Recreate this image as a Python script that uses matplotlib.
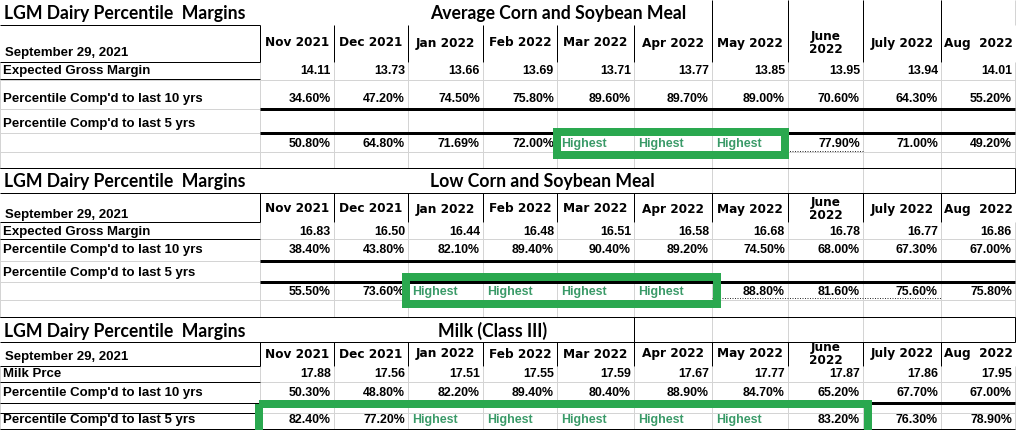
import matplotlib
matplotlib.use("Agg")
import matplotlib.pyplot as plt
from matplotlib.patches import Rectangle

# ---- data -------------------------------------------------------------
months = ["Nov 2021", "Dec 2021", "Jan 2022", "Feb 2022", "Mar 2022",
          "Apr 2022", "May 2022", "June\n2022", "July 2022", "Aug  2022"]

main_title = "LGM Dairy Percentile  Margins"
report_date = "September 29, 2021"
section_titles = ["Average Corn and Soybean Meal", "Low Corn and Soybean Meal",
                  "Milk (Class III)"]
first_labels = ["Expected Gross Margin", "Expected Gross Margin", "Milk Prce"]
label_10 = "Percentile Comp'd to last 10 yrs"
label_5 = "Percentile Comp'd to last 5 yrs"
highest_text = "Highest"

# None means the cell says "Highest"
avg_margin = [14.11, 13.73, 13.66, 13.69, 13.71, 13.77, 13.85, 13.95, 13.94, 14.01]
avg_pct10 = [34.60, 47.20, 74.50, 75.80, 89.60, 89.70, 89.00, 70.60, 64.30, 55.20]
avg_pct5 = [50.80, 64.80, 71.69, 72.00, None, None, None, 77.90, 71.00, 49.20]

low_margin = [16.83, 16.50, 16.44, 16.48, 16.51, 16.58, 16.68, 16.78, 16.77, 16.86]
low_pct10 = [38.40, 43.80, 82.10, 89.40, 90.40, 89.20, 74.50, 68.00, 67.30, 67.00]
low_pct5 = [55.50, 73.60, None, None, None, None, 88.80, 81.60, 75.60, 75.80]

milk_price = [17.88, 17.56, 17.51, 17.55, 17.59, 17.67, 17.77, 17.87, 17.86, 17.95]
milk_pct10 = [50.30, 48.80, 82.20, 89.40, 80.40, 88.90, 84.70, 65.20, 67.70, 67.00]
milk_pct5 = [82.40, 77.20, None, None, None, None, None, 83.20, 76.30, 78.90]

firsts = [avg_margin, low_margin, milk_price]
pct10s = [avg_pct10, low_pct10, milk_pct10]
pct5s = [avg_pct5, low_pct5, milk_pct5]

# ---- layout (pixel grid of the sheet) ---------------------------------
W, H = 1018, 430
col_edges = [0, 260, 334, 408, 483, 557, 634, 712, 788, 863, 941, 1015]

layout = [
    dict(title_row=(0, 25), title_y=14, title_x=430, title_end=712,
         head=(25, 62), head_clip=62, head_y=43, date_y=53,
         first_y=71, pct10_y=99, lab5_y=124, val5_y=144, bottom=168,
         label_lines=[25, 62, 79], gray_rows=[80, 109, 133, 152],
         black_rows=[168], thick=[109, 133], dotted=(151, 557, 863),
         title_vlines=[], box=(557, 785, 132, 155)),
    dict(title_row=(168, 193), title_y=182, title_x=430, title_end=634,
         head=(193, 222), head_clip=222, head_y=209, date_y=215,
         first_y=232, pct10_y=250, lab5_y=273, val5_y=292, bottom=317,
         label_lines=[222, 239], gray_rows=[239, 261, 282, 300],
         black_rows=[168, 193, 317], thick=[261, 282], dotted=(298, 712, 941),
         title_vlines=[1015], box=(406, 717, 277, 304)),
    dict(title_row=(317, 342), title_y=331, title_x=438, title_end=634,
         head=(342, 366), head_clip=362, head_y=354, date_y=357,
         first_y=374, pct10_y=393, lab5_y=420, val5_y=420, bottom=430,
         label_lines=[366, 382, 403, 413], gray_rows=[382, 413],
         black_rows=[317, 342, 429], thick=[403], dotted=None,
         title_vlines=[634, 1015], box=(259.5, 868, 403.5, 445)),
]

GRID = "#d4d4d4"
BOX_GREEN = "#2aa84f"
TEXT_GREEN = "#3a9a68"
PX = 72 / 100  # points per pixel

title_font = dict(family="Lato", weight="bold", fontsize=12.7)
label_font = dict(family="Liberation Sans", weight="bold", fontsize=9.5)
head_font = dict(family="DejaVu Sans", weight="bold", fontsize=8.7)
value_font = dict(family="Liberation Sans", weight="bold", fontsize=8.9)

fig = plt.figure(figsize=(W / 100, H / 100), dpi=100)
ax = fig.add_axes([0, 0, 1, 1])
ax.set_xlim(0, W)
ax.set_ylim(H, 0)
ax.axis("off")


def hline(y, x0, x1, color="black", lw=1, ls="-"):
    ax.plot([x0, x1], [y, y], color=color, lw=lw * PX, ls=ls,
            solid_capstyle="butt")


def vline(x, y0, y1, color="black", lw=1):
    ax.plot([x, x], [y0, y1], color=color, lw=lw * PX, solid_capstyle="butt")


def fmt(v, pct):
    return f"{v:.2f}%" if pct else f"{v:.2f}"


for s, lay in enumerate(layout):
    t0, t1 = lay["title_row"]
    h0, h1 = lay["head"]
    bottom = lay["bottom"]

    # light sheet grid
    for x in col_edges:
        vline(x, h1, bottom, GRID)
        if x > lay["title_end"]:
            vline(x, t0, t1, GRID)
    for y in lay["gray_rows"]:
        hline(y, 0, col_edges[-1], GRID)

    # black borders
    for y in lay["black_rows"]:
        hline(y, 0, col_edges[-1])
    for y in lay["label_lines"]:
        hline(y, 0, col_edges[1])
    vline(col_edges[1], h0, h1)
    for x in col_edges[2:-1]:
        y_start = t0 if (s == 0 and x >= 712) else h0
        vline(x, y_start, h1)
    for x in lay["title_vlines"]:
        vline(x, t0, t1)
    for y in lay["thick"]:
        hline(y, col_edges[1], col_edges[-1], lw=3)
    if lay["dotted"]:
        y, x0, x1 = lay["dotted"]
        hline(y, x0, x1, color="#333333", lw=1, ls=(0, (1, 1.5)))

    # titles and row labels
    ax.text(4, lay["title_y"], main_title, ha="left", va="center", **title_font)
    ax.text(lay["title_x"], lay["title_y"], section_titles[s], ha="left",
            va="center", **title_font)
    ax.text(5, lay["date_y"], report_date, ha="left", va="center", **label_font)
    ax.text(3, lay["first_y"], first_labels[s], ha="left", va="center", **label_font)
    ax.text(3, lay["pct10_y"], label_10, ha="left", va="center", **label_font)
    ax.text(3, lay["lab5_y"], label_5, ha="left", va="center", **label_font)

    # month headers, clipped to the header cells
    clip = Rectangle((col_edges[1], h0), col_edges[-1] - col_edges[1],
                     lay["head_clip"] - h0, transform=ax.transData,
                     fill=False, lw=0)
    ax.add_patch(clip)
    for i, m in enumerate(months):
        xc = (col_edges[i + 1] + col_edges[i + 2]) / 2
        txt = ax.text(xc, lay["head_y"], m, ha="center", va="center",
                      linespacing=0.95, **head_font)
        txt.set_clip_path(clip)

    # values
    for i in range(len(months)):
        xl, xr = col_edges[i + 1], col_edges[i + 2]
        ax.text(xr - 3, lay["first_y"], fmt(firsts[s][i], False), ha="right",
                va="center", **value_font)
        ax.text(xr - 3, lay["pct10_y"], fmt(pct10s[s][i], True), ha="right",
                va="center", **value_font)
        v5 = pct5s[s][i]
        if v5 is None:
            ax.text(xl + 4, lay["val5_y"], highest_text, ha="left", va="center",
                    color=TEXT_GREEN, **value_font)
        else:
            ax.text(xr - 3, lay["val5_y"], fmt(v5, True), ha="right",
                    va="center", **value_font)

    # green highlight box
    bx0, bx1, by0, by1 = lay["box"]
    ax.add_patch(Rectangle((bx0, by0), bx1 - bx0, by1 - by0, fill=False,
                           edgecolor=BOX_GREEN, lw=8 * PX, zorder=5))

fig.savefig("out.png", dpi=100, facecolor="white")
